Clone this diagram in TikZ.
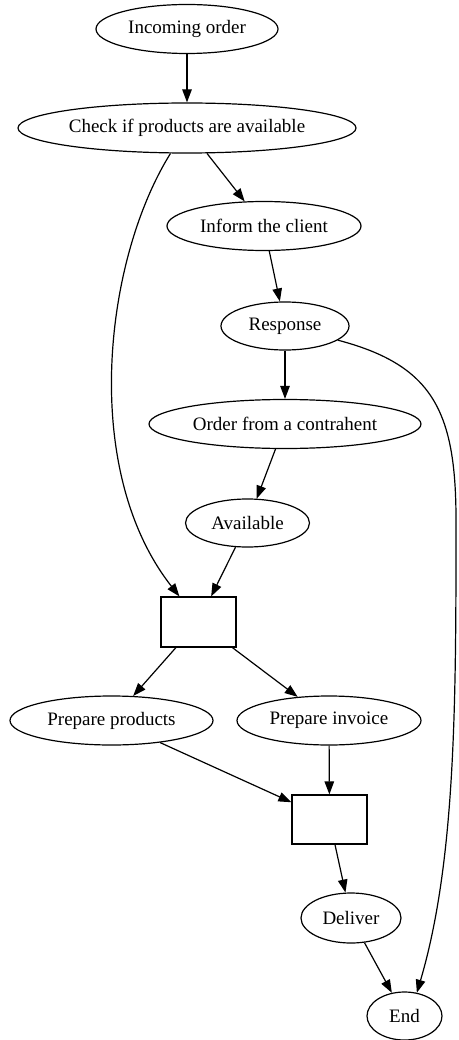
\documentclass[tikz,border=0pt]{standalone}
\usepackage{fontspec}
\setmainfont{Liberation Serif}
\usetikzlibrary{shapes.geometric,arrows.meta}
\begin{document}
\begin{tikzpicture}[x=1pt,y=-1pt,
  every node/.style={font=\fontsize{19}{22}\selectfont},
  ell/.style={draw,ellipse,inner sep=0pt,line width=1.2pt},
  box/.style={draw,rectangle,inner sep=0pt,minimum width=75pt,minimum height=50pt,line width=1.2pt},
  edge/.style={draw,line width=1.2pt,-{Triangle[length=13pt,width=9.5pt]}}]
\useasboundingbox (0,0) rectangle (458,1040);
\node[ell,minimum width=182pt,minimum height=49pt] (inc) at (187,29) {Incoming order};
\node[ell,minimum width=338pt,minimum height=50pt] (chk) at (187,128) {Check if products are available};
\node[ell,minimum width=194pt,minimum height=49pt] (inf) at (264,226) {Inform the client};
\node[ell,minimum width=128pt,minimum height=48pt] (res) at (285,326) {Response};
\node[ell,minimum width=272pt,minimum height=49pt] (ord) at (285,424) {Order from a contrahent};
\node[ell,minimum width=124pt,minimum height=48pt] (ava) at (247.5,523) {Available};
\node[box] (r1) at (198.5,622) {};
\node[ell,minimum width=203pt,minimum height=49pt] (pp) at (111.5,720.5) {Prepare products};
\node[ell,minimum width=184pt,minimum height=49pt] (pi) at (329,720.5) {Prepare invoice};
\node[box,minimum height=49pt] (r2) at (329.5,819.5) {};
\node[ell,minimum width=100pt,minimum height=50pt] (del) at (351,918) {Deliver};
\node[ell,minimum width=75pt,minimum height=48pt] (end) at (404.5,1016) {End};
\coordinate (r1in) at ([xshift=19pt]r1.north west);
\path[edge] (inc) -- (chk);
\path[edge] (chk) -- (inf);
\path[edge] (chk.-123) .. controls (104,260) and (80,470) .. (r1in);
\path[edge] (inf) -- (res);
\path[edge] (res) -- (ord);
\path[edge] (res.-15) .. controls (432,365) and (456,410) .. (456,520) .. controls (456,700) and (456,860) .. (end.62);
\path[edge] (ord) -- (ava);
\path[edge] (ava) -- (r1);
\path[edge] (r1) -- (pp);
\path[edge] (r1) -- (pi);
\path[edge] (pp) -- (r2);
\path[edge] (pi) -- (r2);
\path[edge] (r2) -- (del);
\path[edge] (del) -- (end);
\end{tikzpicture}
\end{document}
